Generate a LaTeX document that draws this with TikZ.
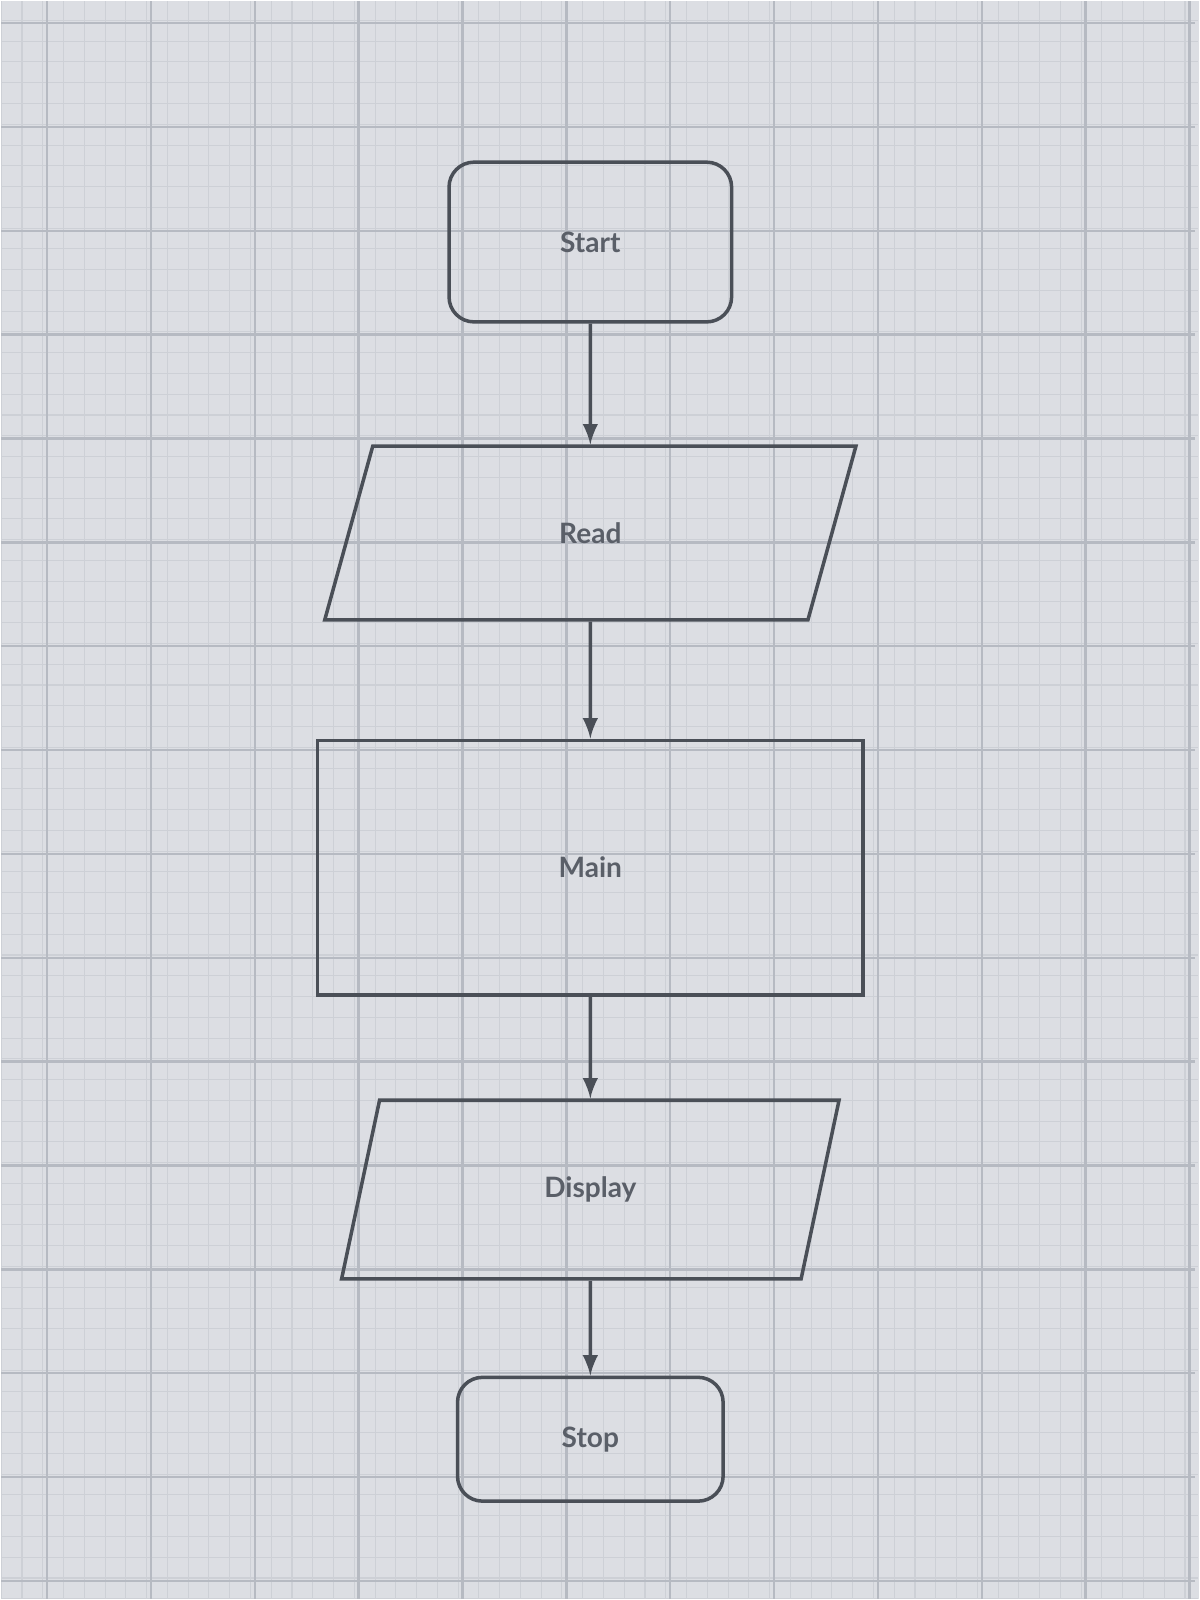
\documentclass[tikz,border=0pt]{standalone}
\usepackage{fontspec}
\setsansfont{Lato}
\usepackage{tikz}
\usetikzlibrary{matrix, arrows, shapes.geometric}

\definecolor{paper}{HTML}{DCDEE3}
\definecolor{minorline}{HTML}{CDD0D6}
\definecolor{majorline}{HTML}{B6BAC2}
\definecolor{ink}{HTML}{4A4F57}
\definecolor{label}{HTML}{5A5F68}

\tikzset{
  terminal/.style = {draw = ink, line width = 1pt, rounded corners = 0.25cm, font = \sffamily\bfseries\fontsize{8}{10}\selectfont, text = label},
  io/.style = {draw = ink, line width = 1pt, trapezium, trapezium left angle = 78, trapezium right angle = 102, trapezium stretches = true, font = \sffamily\bfseries\fontsize{8}{10}\selectfont, text = label},
  process/.style = {draw = ink, line width = 1pt, font = \sffamily\bfseries\fontsize{8}{10}\selectfont, text = label},
  flow/.style = {-latex, draw = ink, line width = 1pt}
}

\begin{document}
\begin{tikzpicture}
% sheet with grid
\fill[paper] (0,0) rectangle (12,16);
\draw[minorline, line width = 0.3pt, step = 0.208] (0,0) grid (11.99,16);
\begin{scope}[shift = {(0.46,0.18)}]
\draw[majorline, line width = 0.7pt, step = 1.04] (-0.46,-0.18) grid (11.5,15.82);
\end{scope}
\useasboundingbox (0,0) rectangle (12,16);

\matrix (m) at (5.9,14.53) [anchor = north, matrix of nodes, row sep = 0.95cm]{
\node[terminal, minimum width = 2.83cm, minimum height = 1.6cm](start){Start}; \\[0.26cm]
\node[io, minimum width = 5.33cm, minimum height = 1.74cm](read){Read}; \\[0.22cm]
\node[process, minimum width = 5.46cm, minimum height = 2.55cm](main){Main}; \\[0.07cm]
\node[io, minimum width = 4.99cm, minimum height = 1.79cm](display){Display}; \\
\node[terminal, minimum width = 2.66cm, minimum height = 1.24cm](stop){Stop}; \\
};
\draw [flow] (start) -- (read);
\draw [flow] (read) -- (main);
\draw [flow] (main) -- (display);
\draw [flow] (display) -- (stop);
\end{tikzpicture}
\end{document}
